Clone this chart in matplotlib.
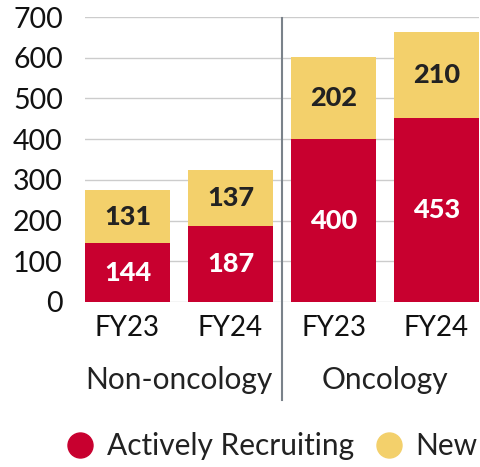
import matplotlib

matplotlib.use("Agg")
import matplotlib.pyplot as plt
from matplotlib.lines import Line2D

plt.rcParams["font.family"] = ["Lato", "DejaVu Sans"]

groups = ["Non-oncology", "Oncology"]
years = ["FY23", "FY24", "FY23", "FY24"]
recruiting = [144, 187, 400, 453]
new = [131, 137, 202, 210]
yticks = [0, 100, 200, 300, 400, 500, 600, 700]

RED = "#C8002F"
YELLOW = "#F3D06B"

fig = plt.figure(figsize=(4.8, 4.67), dpi=100)
ax = fig.add_axes([85 / 480, 165 / 467, 394 / 480, 285 / 467])

width = 0.825
x = list(range(len(years)))
ax.bar(x, recruiting, width=width, color=RED, zorder=3)
ax.bar(x, new, width=width, bottom=recruiting, color=YELLOW, zorder=3)

for xi, r, n in zip(x, recruiting, new):
    ax.text(xi, r / 2, str(r), ha="center", va="center", color="white",
            fontsize=19.5, fontweight="black", zorder=4)
    ax.text(xi, r + n / 2, str(n), ha="center", va="center", color="#222222",
            fontsize=19.5, fontweight="black", zorder=4)

ax.set_xlim(-width / 2, len(x) - 1 + width / 2)
ax.set_ylim(0, 700)
ax.set_yticks(yticks)
ax.set_yticklabels([str(v) for v in yticks], fontsize=20.5, color="#111111")
ax.set_xticks(x)
ax.set_xticklabels(years, fontsize=20, color="#111111")
ax.tick_params(length=0, axis="y", pad=16)
ax.tick_params(length=0, axis="x", pad=9)
ax.grid(axis="y", color="#cccccc", linewidth=1, zorder=0)
for spine in ax.spines.values():
    spine.set_visible(False)

# group labels and divider
for gi, g in enumerate(groups):
    ax.text(gi * 2 + 0.5, -0.275, g, transform=ax.get_xaxis_transform(),
            ha="center", va="center", fontsize=21.5, color="#222222")
ax.add_line(Line2D([1.5, 1.5], [-0.345, 0.995], transform=ax.get_xaxis_transform(),
                   color="#7a828a", linewidth=1.5, clip_on=False, zorder=5))

# legend
handles = [
    Line2D([], [], marker="o", linestyle="none", markersize=18, color=RED, label="Actively Recruiting"),
    Line2D([], [], marker="o", linestyle="none", markersize=18, color=YELLOW, label="New"),
]
fig.legend(handles=handles, loc="center", bbox_to_anchor=(0.562, 0.045), ncol=2, frameon=False,
           fontsize=21.5, handletextpad=0.3, columnspacing=0.57, handlelength=1.2,
           labelcolor="#222222")

fig.savefig("out.png", dpi=100)
